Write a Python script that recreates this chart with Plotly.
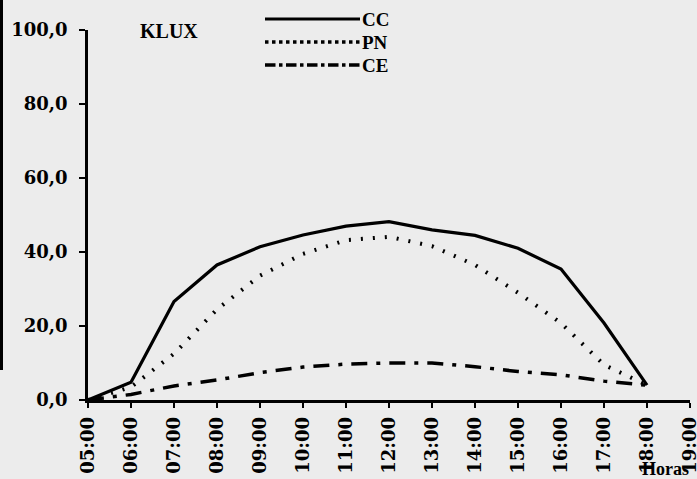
import plotly.graph_objects as go

hours = ["05:00", "06:00", "07:00", "08:00", "09:00", "10:00", "11:00", "12:00",
         "13:00", "14:00", "15:00", "16:00", "17:00", "18:00", "19:00"]
data_hours = hours[:14]
cc = [0, 4.8, 26.6, 36.5, 41.4, 44.6, 47.0, 48.2, 46.0, 44.5, 41.0, 35.4, 20.8, 4.0]
pn = [0, 3.5, 12.5, 24.5, 33.6, 39.5, 43.2, 44.1, 41.6, 36.5, 29.0, 20.8, 9.5, 4.0]
ce = [0, 1.5, 3.8, 5.4, 7.4, 8.9, 9.7, 10.0, 10.0, 9.0, 7.7, 6.8, 5.1, 4.0]
y_ticks = [0, 20, 40, 60, 80, 100]
y_labels = ["0,0", "20,0", "40,0", "60,0", "80,0", "100,0"]

serif = "Liberation Serif"
wide = "DejaVu Serif"
fig = go.Figure()
fig.add_trace(go.Scatter(x=data_hours, y=cc, mode="lines", name="CC",
                         line=dict(color="black", width=3.2, dash="solid")))
fig.add_trace(go.Scatter(x=data_hours, y=pn, mode="lines", name="PN",
                         line=dict(color="black", width=4, dash="2px,10px")))
fig.add_trace(go.Scatter(x=data_hours, y=ce, mode="lines", name="CE",
                         line=dict(color="black", width=3.5, dash="16px,9px,4px,9px")))

bg = "#ececec"
L, T, W, H = 88, 30, 602, 370


def px(xp):
    return (xp - L) / W


def py(yp):
    return (T + H - yp) / H


fig.update_layout(
    width=697, height=479,
    paper_bgcolor=bg, plot_bgcolor=bg,
    margin=dict(l=L, r=697 - L - W, t=T, b=479 - T - H, autoexpand=False),
    showlegend=False,
    font=dict(family=serif, color="black", size=16),
)
fig.update_xaxes(type="category", categoryorder="array", categoryarray=hours,
                 range=[0, 14], showgrid=False, zeroline=False, automargin=False,
                 showline=True, linecolor="black", linewidth=2.5,
                 ticks="outside", ticklen=5, tickwidth=2, tickcolor="black",
                 tickangle=-90, ticklabelstandoff=2,
                 tickfont=dict(family=wide, size=18, color="black", weight="bold"))
fig.update_yaxes(range=[0, 100], tickvals=y_ticks, ticktext=y_labels,
                 showgrid=False, zeroline=False, automargin=False,
                 showline=True, linecolor="black", linewidth=2.5,
                 ticks="outside", ticklen=6, tickwidth=2, tickcolor="black",
                 ticklabelstandoff=8,
                 tickfont=dict(family=wide, size=18, color="black", weight="bold"))

# legend drawn as line samples with labels
legend_items = [("CC", "solid", 3), ("PN", "dot", 3.5), ("CE", "dashdot", 3.5)]
for i, (name, dash, w) in enumerate(legend_items):
    yy = 19 + i * 23
    fig.add_shape(type="line", xref="paper", yref="paper",
                  x0=px(265), x1=px(360), y0=py(yy), y1=py(yy),
                  line=dict(color="black", width=w, dash=dash))
    fig.add_annotation(text=name, xref="paper", yref="paper",
                       x=px(360), y=py(yy),
                       xanchor="left", yanchor="middle", showarrow=False,
                       font=dict(family=serif, size=19, color="black", weight="bold"))

fig.add_annotation(text="KLUX", xref="paper", yref="paper",
                   x=px(138), y=py(31),
                   xanchor="left", yanchor="middle", showarrow=False,
                   font=dict(family=serif, size=20, color="black", weight="bold"))
fig.add_annotation(text="Horas", xref="paper", yref="paper",
                   x=px(640), y=py(469),
                   xanchor="left", yanchor="middle", showarrow=False,
                   font=dict(family=serif, size=18, color="black", weight="bold"))

# left border of the scanned frame
fig.add_shape(type="line", xref="paper", yref="paper",
              x0=px(1.5), x1=px(1.5), y0=py(370), y1=py(0),
              line=dict(color="black", width=3))

fig.write_html("out.html", config={"displayModeBar": False},
               post_script="document.body.style.margin='0';document.body.style.padding='0';")
